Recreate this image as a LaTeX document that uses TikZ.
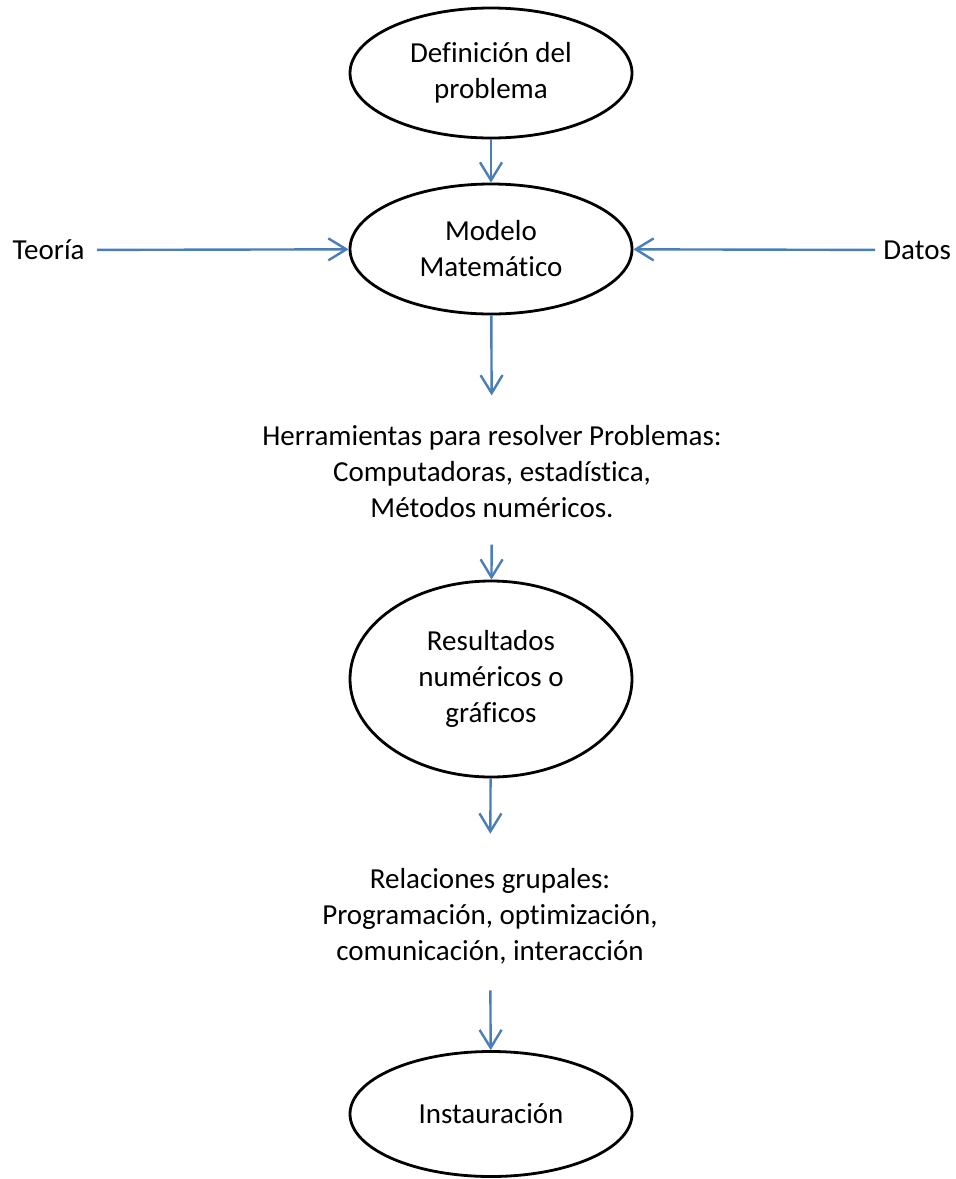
\documentclass[tikz,border=0pt]{standalone}
\usepackage{fontspec}
\setmainfont[Ligatures=NoCommon]{Carlito}
\usepackage[usenames,dvipsnames]{xcolor}
\definecolor{flecha}{HTML}{4A7EBB}
\usetikzlibrary{arrows.meta, positioning, shapes.geometric}

\begin{document}
\begin{tikzpicture}[
    x=0.5pt, y=-0.5pt,
    every node/.style={align=center, font=\fontsize{14.5}{18}\selectfont},
    elipse/.style={ellipse, draw=black, line width=1.4pt, minimum width=141pt, minimum height=65pt, inner sep=0pt},
    texto/.style={inner sep=0pt},
    arrow/.style={-{Straight Barb[length=9pt, width=11pt]}, line width=1.2pt, color=flecha}
]
\useasboundingbox (0,0) rectangle (955,1179);
\node[elipse] (1) at (491,73) {Definición del\\problema};
\node[elipse] (2) at (491,249) {Modelo\\Matemático};
\node[texto, anchor=east] (teoria) at (85,250) {Teoría};
\node[texto, anchor=west] (datos) at (883,250) {Datos};
\node[texto] (herr) at (492,472) {Herramientas para resolver Problemas:\\Computadoras, estadística,\\Métodos numéricos.};
\node[elipse, minimum height=98pt] (3) at (491,679) {Resultados\\numéricos o\\gráficos};
\node[texto] (rel) at (490,916) {Relaciones grupales:\\Programación, optimización,\\comunicación, interacción};
\node[elipse, minimum height=62.5pt] (4) at (491,1114) {Instauración};
\draw[arrow] (1) -- (2);
\draw[arrow, shorten <=6pt] (teoria) -- (2);
\draw[arrow, shorten <=4pt] (datos) -- (2);
\draw[arrow, shorten >=15pt] (2) -- (herr);
\draw[arrow, shorten <=13pt] (herr) -- (3);
\draw[arrow, shorten >=17pt] (3) -- (rel);
\draw[arrow, shorten <=13pt] (rel) -- (4);
\end{tikzpicture}
\end{document}
